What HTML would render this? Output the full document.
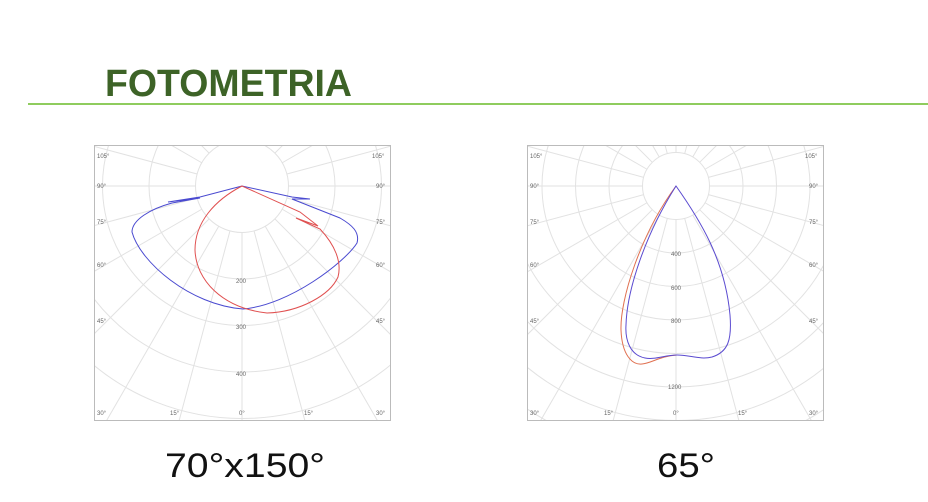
<!DOCTYPE html>
<html><head><meta charset="utf-8"><style>
html,body{margin:0;padding:0;background:#fff;width:928px;height:502px;overflow:hidden}
svg{display:block}
</style></head><body>
<svg id="s" width="928" height="502" xmlns="http://www.w3.org/2000/svg" font-family="Liberation Sans, sans-serif">
<defs>
<clipPath id="c1"><rect x="95" y="146" width="295" height="274"/></clipPath>
<clipPath id="c2"><rect x="528" y="146" width="295" height="274"/></clipPath>
</defs>
<text x="105" y="96" font-size="38" font-weight="bold" fill="#3d6327" textLength="247" lengthAdjust="spacingAndGlyphs">FOTOMETRIA</text>
<rect x="28" y="103" width="900" height="2" fill="#8fcc5e"/>
<g id="g1" clip-path="url(#c1)"></g>
<g id="g2" clip-path="url(#c2)"></g>
<rect x="94.5" y="145.5" width="296" height="275" fill="none" stroke="#bbb"/>
<rect x="527.5" y="145.5" width="296" height="275" fill="none" stroke="#bbb"/>
<g font-size="6" fill="#666">
<text x="97" y="158">105°</text><text x="97" y="188">90°</text><text x="97" y="224">75°</text><text x="97" y="267">60°</text><text x="97" y="323">45°</text><text x="97" y="415">30°</text>
<text x="372" y="158">105°</text><text x="376" y="188">90°</text><text x="376" y="224">75°</text><text x="376" y="267">60°</text><text x="376" y="323">45°</text><text x="376" y="415">30°</text>
<text x="170" y="415">15°</text><text x="239" y="415">0°</text><text x="304" y="415">15°</text>
<text x="236" y="283">200</text><text x="236" y="329">300</text><text x="236" y="376">400</text>
<text x="530" y="158">105°</text><text x="530" y="188">90°</text><text x="530" y="224">75°</text><text x="530" y="267">60°</text><text x="530" y="323">45°</text><text x="530" y="415">30°</text>
<text x="805" y="158">105°</text><text x="809" y="188">90°</text><text x="809" y="224">75°</text><text x="809" y="267">60°</text><text x="809" y="323">45°</text><text x="809" y="415">30°</text>
<text x="604" y="415">15°</text><text x="673" y="415">0°</text><text x="738" y="415">15°</text>
<text x="671" y="256">400</text><text x="671" y="290">600</text><text x="671" y="323">800</text><text x="668" y="389">1200</text>
</g>
<path d="M242,186 L200,197 L168,202 L200,198 L172,203 C150,209 132,220 132,232 C140,262 190,305 243,309 C290,305 345,262 357,243 C360,232 352,225 340,218 L292,199 L310,199 L292,197 Z" fill="none" stroke="#4a4ad0" stroke-width="1"/>
<path d="M242,186 C215,200 195,222 195,250 C196,280 222,308 267,313 C300,312 330,295 338,277 C342,262 335,245 320,229 L296,218 L318,226 L300,212 Z" fill="none" stroke="#e05050" stroke-width="1"/>
<path d="M676,186 C640,235 620,300 621,330 C622,355 632,365 642,364 C652,363 660,356 677,355" fill="none" stroke="#e07050" stroke-width="1"/>
<path d="M676,186 C700,220 725,260 730,315 C732,340 728,352 712,357 C700,360 690,355 677,355 C665,355 655,360 645,358 C630,355 625,340 626,325 C627,290 645,235 676,186 Z" fill="none" stroke="#5a4ad0" stroke-width="1"/>
<text x="245" y="477" font-size="34" text-anchor="middle" fill="#111" textLength="160" lengthAdjust="spacingAndGlyphs">70°x150°</text>
<text x="686" y="477" font-size="34" text-anchor="middle" fill="#111" textLength="58" lengthAdjust="spacingAndGlyphs">65°</text>
</svg>
<script>
function grid(id,cx,cy,step){
  var g=document.getElementById(id),h="";
  for(var i=1;i<=9;i++)h+='<circle cx="'+cx+'" cy="'+cy+'" r="'+(step*i)+'" fill="none" stroke="#e2e2e2" stroke-width="1"/>';
  for(var a=0;a<360;a+=15){var r=a*Math.PI/180,x1=cx+Math.sin(r)*step,y1=cy+Math.cos(r)*step,x2=cx+Math.sin(r)*500,y2=cy+Math.cos(r)*500;
  h+='<line x1="'+x1+'" y1="'+y1+'" x2="'+x2+'" y2="'+y2+'" stroke="#e2e2e2" stroke-width="1"/>';}
  g.innerHTML=h;
}
grid("g1",242,186,46.5);grid("g2",676,186,33.5);
</script>
</body></html>
